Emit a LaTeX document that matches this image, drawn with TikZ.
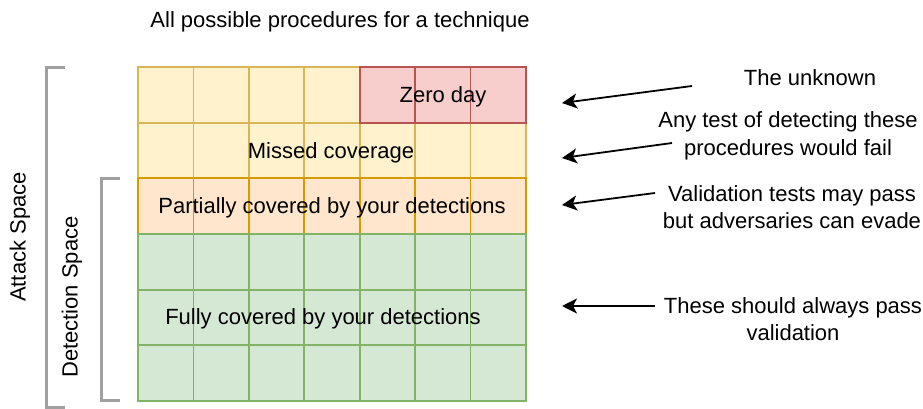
\documentclass[tikz,border=0pt]{standalone}
\usepackage{fontspec}
\setmainfont{Liberation Sans}
\usetikzlibrary{arrows.meta}
\definecolor{yfill}{HTML}{FFF2CC}
\definecolor{ydraw}{HTML}{D6B656}
\definecolor{rfill}{HTML}{F8CECC}
\definecolor{rdraw}{HTML}{B85450}
\definecolor{ofill}{HTML}{FFE6CC}
\definecolor{odraw}{HTML}{D79B00}
\definecolor{gfill}{HTML}{D5E8D4}
\definecolor{gdraw}{HTML}{82B366}
\definecolor{brk}{HTML}{A0A0A0}
\begin{document}
\begin{tikzpicture}[x=1pt,y=-1pt,
  lbl/.style={font=\fontsize{22}{27.5}\selectfont, inner sep=0pt, align=center, text=black},
  cellbox/.style={line width=1.8pt, line join=miter},
  bracket/.style={draw=brk, line width=3pt, line join=miter},
  pointer/.style={draw=black, line width=1.8pt, -{Stealth[length=15pt,width=15pt,inset=4pt]}}]
\useasboundingbox (0,0) rectangle (923,409);
\def\cw{55.4286}
\def\ch{55.6667}
% row 0 yellow part and row 1
\foreach \r/\c in {0/0,0/1,0/2,0/3,1/0,1/1,1/2,1/3,1/4,1/5,1/6}
  \draw[cellbox, fill=yfill, draw=ydraw] (138+\c*\cw, 67+\r*\ch) rectangle +(\cw,\ch);
% zero day cells
\foreach \c in {4,5,6}
  \draw[cellbox, fill=rfill, draw=rdraw] (138+\c*\cw, 67) rectangle +(\cw,\ch);
% partially covered row
\foreach \c in {0,...,6}
  \draw[cellbox, fill=ofill, draw=odraw] (138+\c*\cw, 67+2*\ch) rectangle +(\cw,\ch);
% fully covered rows
\foreach \r in {3,4,5}
  \foreach \c in {0,...,6}
    \draw[cellbox, fill=gfill, draw=gdraw] (138+\c*\cw, 67+\r*\ch) rectangle +(\cw,\ch);

% texts in grid
\node[lbl] (zero) at (443,97) {Zero day};
\node[lbl] (missed) at (331,153) {Missed coverage};
\node[lbl] (partial) at (332,207.5) {Partially covered by your detections};
\node[lbl] (fully) at (323,318.5) {Fully covered by your detections};

% title
\node[lbl] (title) at (340,22) {All possible procedures for a technique};

% brackets
\draw[bracket] (65,68) -- (46,68) -- (46,407) -- (65,407);
\draw[bracket] (120,178) -- (101,178) -- (101,400) -- (120,400);
\node[lbl, rotate=90] (attack) at (20,237) {Attack Space};
\node[lbl, rotate=90] (detect) at (72,297) {Detection Space};

% right-hand notes
\node[lbl] (unknown) at (810,78) {The unknown};
\node[lbl] (fail) at (788,136) {Any test of detecting these\\procedures would fail};
\node[lbl] (evade) at (792,207) {Validation tests may pass\\but adversaries can evade};
\node[lbl] (pass) at (793,319) {These should always pass\\validation};

% arrows
\coordinate (t1) at (692,86);  \coordinate (h1) at (562,103);
\coordinate (t2) at (672,143); \coordinate (h2) at (562,158);
\coordinate (t3) at (655,193); \coordinate (h3) at (562,205);
\coordinate (t4) at (655,306); \coordinate (h4) at (562,306);
\draw[pointer] (t1) -- (h1);
\draw[pointer] (t2) -- (h2);
\draw[pointer] (t3) -- (h3);
\draw[pointer] (t4) -- (h4);
\end{tikzpicture}
\end{document}
